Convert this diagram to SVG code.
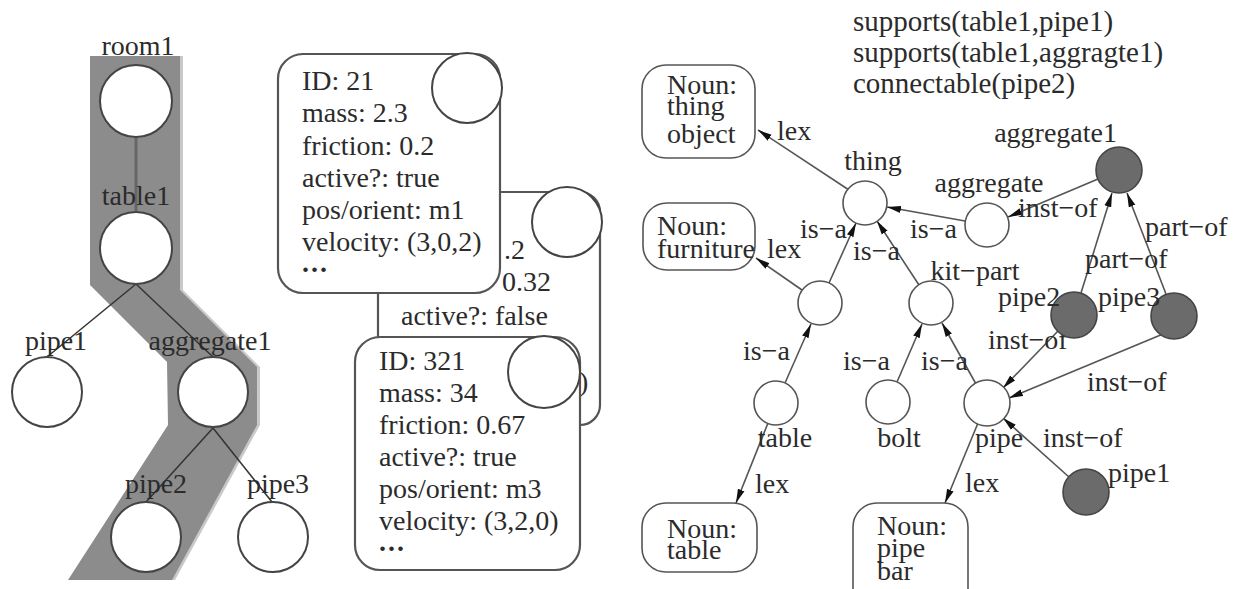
<svg xmlns="http://www.w3.org/2000/svg" width="1241" height="589" viewBox="0 0 1241 589">
  <style>
    .t { font-family: "Liberation Serif", "Times New Roman", serif; font-size: 28px; fill: #2b2b2b; }
    .tc { text-anchor: middle; }
    .lx { font-size: 29px; }
    .node { fill: #fff; stroke: #444; stroke-width: 2; }
    .snode { fill: #fff; stroke: #555; stroke-width: 1.6; }
    .dnode { fill: #6b6b6b; stroke: #444; stroke-width: 1.6; }
    .card { fill: #fff; stroke: #555; stroke-width: 2.2; }
    .tree { stroke: #333; stroke-width: 1.5; fill: none; }
    .edge { stroke: #555; stroke-width: 1.6; fill: none; marker-end: url(#arr); }
  </style>
  <defs>
    <marker id="arr" viewBox="0 0 14 8" refX="14" refY="4" markerWidth="14" markerHeight="8" markerUnits="userSpaceOnUse" orient="auto">
      <path d="M0,0.5 L14,4 L0,7.5 z" fill="#111"/>
    </marker>
  </defs>
  <rect width="1241" height="589" fill="#fff"/>

  <!-- ===== Scene tree with highlighted support path ===== -->
  <g id="support-path">
    <polygon points="93,56 183,56 183,290 260,367 260,425 175,580 71,580 171,425 170,362 93,285" fill="#c9c9c9"/>
    <polygon points="90,56 180,56 180,290 257,367 257,425 172,580 68,580 168,425 167,362 90,285" fill="#8c8c8c"/>
  </g>
  <g id="tree-links">
    <line x1="136" y1="137" x2="136" y2="212" stroke="#666" stroke-width="3"/>
    <line class="tree" x1="136" y1="284" x2="47" y2="357"/>
    <line class="tree" x1="136" y1="284" x2="213" y2="357"/>
    <line class="tree" x1="213" y1="428" x2="146" y2="502"/>
    <line class="tree" x1="213" y1="428" x2="272" y2="502"/>
  </g>
  <g id="room1">
    <circle class="node" cx="136" cy="101" r="36"/>
    <text class="t tc" x="138" y="55">room1</text>
  </g>
  <g id="table1">
    <circle class="node" cx="136" cy="248" r="36"/>
    <text class="t tc" x="136" y="205">table1</text>
  </g>
  <g id="pipe1">
    <circle class="node" cx="47" cy="392" r="35"/>
    <text class="t tc" x="56" y="350">pipe1</text>
  </g>
  <g id="aggregate1">
    <circle class="node" cx="213" cy="392" r="35"/>
    <text class="t tc" x="210" y="350">aggregate1</text>
  </g>
  <g id="pipe2">
    <circle class="node" cx="146" cy="537" r="35"/>
    <text class="t tc" x="156" y="493">pipe2</text>
  </g>
  <g id="pipe3">
    <circle class="node" cx="273" cy="537" r="35"/>
    <text class="t tc" x="278" y="493">pipe3</text>
  </g>

  <!-- ===== Object property cards ===== -->
  <g id="card-back">
    <rect class="card" x="378" y="192" width="222" height="233" rx="20"/>
    <circle class="node" cx="567" cy="222" r="35"/>
    <text class="t" x="504" y="259">.2</text>
    <text class="t" x="502" y="291">0.32</text>
    <text class="t" x="401" y="325">active?: false</text>
    <text class="t" x="579" y="391">)</text>
  </g>
  <g id="card-21">
    <rect class="card" x="278" y="54" width="222" height="239" rx="25"/>
    <circle class="node" cx="467" cy="88" r="35"/>
    <text class="t" x="302" y="90">ID: 21</text>
    <text class="t" x="302" y="122">mass: 2.3</text>
    <text class="t" x="302" y="155">friction: 0.2</text>
    <text class="t" x="302" y="187">active?: true</text>
    <text class="t" x="302" y="219">pos/orient: m1</text>
    <text class="t" x="302" y="251">velocity: (3,0,2)</text>
    <text class="t" x="302" y="272" font-weight="bold" letter-spacing="2">...</text>
  </g>
  <g id="card-321">
    <rect class="card" x="355" y="337" width="225" height="233" rx="25"/>
    <circle class="node" cx="544" cy="372" r="36"/>
    <text class="t" x="379" y="370">ID: 321</text>
    <text class="t" x="379" y="402">mass: 34</text>
    <text class="t" x="379" y="434">friction: 0.67</text>
    <text class="t" x="379" y="466">active?: true</text>
    <text class="t" x="379" y="498">pos/orient: m3</text>
    <text class="t" x="379" y="530">velocity: (3,2,0)</text>
    <text class="t" x="379" y="551" font-weight="bold" letter-spacing="2">...</text>
  </g>

  <!-- ===== Facts ===== -->
  <g id="facts">
    <text class="t lx" x="853" y="31">supports(table1,pipe1)</text>
    <text class="t lx" x="853" y="62">supports(table1,aggragte1)</text>
    <text class="t lx" x="853" y="93">connectable(pipe2)</text>
  </g>

  <!-- ===== Concept graph connectors ===== -->
  <g id="connectors">
    <line class="edge" x1="849" y1="190" x2="758" y2="130"/>
    <line class="edge" x1="802" y1="290" x2="756" y2="258"/>
    <line class="edge" x1="829" y1="283" x2="856" y2="223"/>
    <line class="edge" x1="919" y1="285" x2="877" y2="221"/>
    <line class="edge" x1="965" y1="221" x2="887" y2="207"/>
    <line class="edge" x1="1098" y1="179" x2="1008" y2="217"/>
    <line class="edge" x1="1081" y1="293" x2="1112" y2="193"/>
    <line class="edge" x1="1166" y1="294" x2="1127" y2="193"/>
    <line class="edge" x1="785" y1="383" x2="811" y2="324"/>
    <line class="edge" x1="897" y1="382" x2="922" y2="324"/>
    <line class="edge" x1="976" y1="384" x2="942" y2="323"/>
    <line class="edge" x1="768" y1="423" x2="736" y2="503"/>
    <line class="edge" x1="978" y1="423" x2="945" y2="503"/>
    <line class="edge" x1="1058" y1="331" x2="1003" y2="388"/>
    <line class="edge" x1="1163" y1="334" x2="1009" y2="398"/>
    <line class="edge" x1="1069" y1="477" x2="1003" y2="418"/>
    <!-- edge labels -->
    <text class="t" x="777" y="140">lex</text>
    <text class="t" x="767" y="258">lex</text>
    <text class="t" x="800" y="238">is−a</text>
    <text class="t" x="853" y="260">is−a</text>
    <text class="t" x="910" y="238">is−a</text>
    <text class="t" x="1018" y="217">inst−of</text>
    <text class="t" x="1085" y="268">part−of</text>
    <text class="t" x="1145" y="236">part−of</text>
    <text class="t" x="743" y="360">is−a</text>
    <text class="t" x="843" y="370">is−a</text>
    <text class="t" x="921" y="370">is−a</text>
    <text class="t" x="755" y="493">lex</text>
    <text class="t" x="965" y="492">lex</text>
    <text class="t" x="988" y="349">inst−of</text>
    <text class="t" x="1087" y="391">inst−of</text>
    <text class="t" x="1043" y="447">inst−of</text>
  </g>

  <!-- ===== Concept graph nodes ===== -->
  <g id="noun-thing">
    <rect class="snode" x="642" y="65" width="113" height="93" rx="24"/>
    <text class="t" x="667" y="94">Noun:</text>
    <text class="t" x="667" y="115">thing</text>
    <text class="t" x="667" y="143">object</text>
  </g>
  <g id="noun-furniture">
    <rect class="snode" x="643" y="203" width="112" height="67" rx="24"/>
    <text class="t" x="657" y="235">Noun:</text>
    <text class="t" x="657" y="258">furniture</text>
  </g>
  <g id="noun-table">
    <rect class="snode" x="642" y="503" width="115" height="69" rx="24"/>
    <text class="t" x="667" y="538">Noun:</text>
    <text class="t" x="667" y="559">table</text>
  </g>
  <g id="noun-pipe">
    <rect class="snode" x="853" y="503" width="115" height="110" rx="24"/>
    <text class="t" x="877" y="535">Noun:</text>
    <text class="t" x="877" y="557">pipe</text>
    <text class="t" x="877" y="580">bar</text>
  </g>
  <g id="c-thing">
    <circle class="snode" cx="865" cy="203" r="22"/>
    <text class="t tc" x="873" y="170">thing</text>
  </g>
  <g id="c-aggregate">
    <circle class="snode" cx="987" cy="225" r="22"/>
    <text class="t tc" x="989" y="192">aggregate</text>
  </g>
  <g id="c-furniture">
    <circle class="snode" cx="820" cy="303" r="22"/>
  </g>
  <g id="c-kit-part">
    <circle class="snode" cx="931" cy="303" r="22"/>
    <text class="t tc" x="975" y="280">kit−part</text>
  </g>
  <g id="c-table">
    <circle class="snode" cx="776" cy="403" r="22"/>
    <text class="t tc" x="785" y="447">table</text>
  </g>
  <g id="c-bolt">
    <circle class="snode" cx="888" cy="402" r="22"/>
    <text class="t tc" x="899" y="447">bolt</text>
  </g>
  <g id="c-pipe">
    <circle class="snode" cx="987" cy="403" r="23"/>
    <text class="t tc" x="999" y="447">pipe</text>
  </g>
  <g id="i-aggregate1">
    <circle class="dnode" cx="1119" cy="170" r="23"/>
    <text class="t" x="1117" y="142" text-anchor="end">aggregate1</text>
  </g>
  <g id="i-pipe2">
    <circle class="dnode" cx="1074" cy="315" r="23"/>
    <text class="t" x="998" y="306">pipe2</text>
  </g>
  <g id="i-pipe3">
    <circle class="dnode" cx="1174" cy="316" r="23"/>
    <text class="t" x="1098" y="306">pipe3</text>
  </g>
  <g id="i-pipe1">
    <circle class="dnode" cx="1086" cy="492" r="23"/>
    <text class="t" x="1108" y="482">pipe1</text>
  </g>
</svg>
